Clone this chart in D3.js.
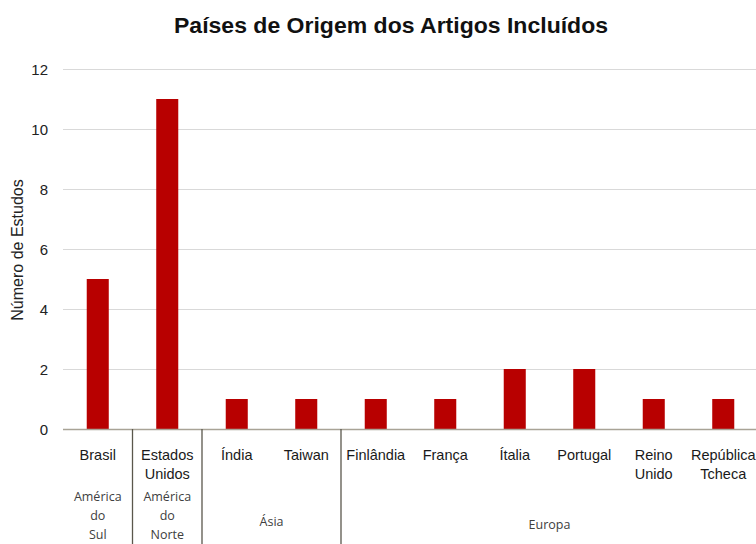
<!DOCTYPE html>
<html><head><meta charset="utf-8">
<script src="https://cdn.jsdelivr.net/npm/d3@7"></script>
<style>body{margin:0;background:#fff;} svg{display:block;}</style>
</head><body>
<script>
const categories = ["Brasil","Estados Unidos","Índia","Taiwan","Finlândia","França","Ítalia","Portugal","Reino Unido","República Tcheca"];
const categoryLines = [["Brasil"],["Estados","Unidos"],["Índia"],["Taiwan"],["Finlândia"],["França"],["Ítalia"],["Portugal"],["Reino","Unido"],["República","Tcheca"]];
const values = [5,11,1,1,1,1,2,2,1,1];
const groups = [
  {name:["América","do","Sul"], from:"Brasil", to:"Brasil"},
  {name:["América","do","Norte"], from:"Estados Unidos", to:"Estados Unidos"},
  {name:["Ásia"], from:"Índia", to:"Taiwan"},
  {name:["Europa"], from:"Finlândia", to:"República Tcheca"}
];
const yTicks = [0,2,4,6,8,10,12];
const title = "Países de Origem dos Artigos Incluídos";
const yTitle = "Número de Estudos";

const W = 756, H = 544;
const svg = d3.select("body").append("svg").attr("width",W).attr("height",H);
const x0 = 63, x1 = 758, yTop = 69, yBot = 429;
const x = d3.scaleBand().domain(categories).range([x0,x1]).paddingInner(0.683).paddingOuter(0.3415);
const y = d3.scaleLinear().domain([0,12]).range([yBot,yTop]);

// gridlines
svg.append("g").selectAll("line").data(yTicks.filter(d=>d>0)).join("line")
  .attr("x1",x0).attr("x2",W).attr("y1",d=>y(d)).attr("y2",d=>y(d))
  .attr("stroke","#d9d9d9").attr("stroke-width",1).attr("shape-rendering","crispEdges");

// y tick labels
svg.append("g").selectAll("text").data(yTicks).join("text")
  .attr("x",48).attr("y",d=>y(d)+5.5).attr("text-anchor","end")
  .attr("font-family","Liberation Sans, Arial, sans-serif").attr("font-size",15).attr("fill","#222")
  .text(d=>d);

// bars
svg.append("g").selectAll("rect").data(values).join("rect")
  .attr("x",(d,i)=>x(categories[i])).attr("width",x.bandwidth())
  .attr("y",d=>y(d)).attr("height",d=>y(0)-y(d))
  .attr("fill","#b80000");

// axis line
svg.append("line").attr("x1",x0).attr("x2",W).attr("y1",yBot+0.5).attr("y2",yBot+0.5)
  .attr("stroke","#a8a396").attr("stroke-width",1.5);

// category labels
const step = x.step();
const catG = svg.append("g").attr("font-family","Liberation Sans, Arial, sans-serif").attr("font-size",14.5).attr("fill","#1a1a1a");
categoryLines.forEach((lines,i)=>{
  const cx = x(categories[i]) + x.bandwidth()/2;
  const t = catG.append("text").attr("text-anchor","middle");
  lines.forEach((l,j)=>t.append("tspan").attr("x",cx).attr("y",460+j*19).text(l));
});

// group separators and labels
const grpG = svg.append("g");
const bounds = groups.map(g=>{
  const a = x(g.from) + x.bandwidth()/2 - step/2;
  const b = x(g.to) + x.bandwidth()/2 + step/2;
  return [a,b];
});
bounds.slice(1).forEach(b=>{
  grpG.append("line").attr("x1",b[0]).attr("x2",b[0]).attr("y1",yBot).attr("y2",H)
    .attr("stroke","#5a574c").attr("stroke-width",1.3);
});
groups.forEach((g,i)=>{
  const cx = (bounds[i][0]+Math.min(bounds[i][1],x1))/2;
  const t = grpG.append("text").attr("text-anchor","middle")
    .attr("font-family","Open Sans, Noto Sans, sans-serif").attr("font-size",12.5).attr("fill","#404040");
  const n = g.name.length;
  const startY = n===1 ? (i===3?529:526) : 501;
  g.name.forEach((l,j)=>t.append("tspan").attr("x",cx).attr("y",startY+j*19).text(l));
});

// title
svg.append("text").attr("x",391).attr("y",33).attr("text-anchor","middle")
  .attr("font-family","Liberation Sans, Arial, sans-serif").attr("font-weight","bold").attr("font-size",22)
  .attr("textLength",434).attr("lengthAdjust","spacingAndGlyphs").attr("fill","#111")
  .text(title);

// y axis title
svg.append("text").attr("transform","translate(23,250) rotate(-90)").attr("text-anchor","middle")
  .attr("font-family","Liberation Sans, Arial, sans-serif").attr("font-size",16).attr("fill","#222")
  .text(yTitle);
</script>
</body></html>
